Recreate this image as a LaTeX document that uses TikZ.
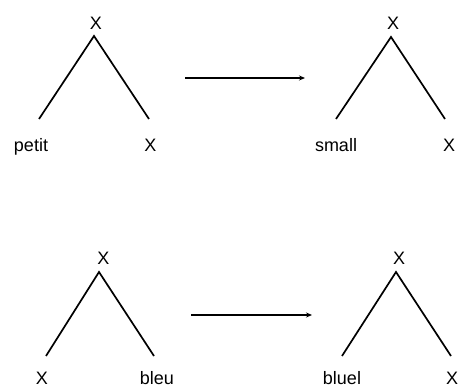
\documentclass[tikz,border=0pt]{standalone}
\usepackage{fontspec}
\setmainfont{Liberation Sans}
\usetikzlibrary{arrows.meta}

\begin{document}
\begin{tikzpicture}[x=1pt,y=-1pt,line width=1.7pt,
  lbl/.style={anchor=base,inner sep=0pt,font=\fontsize{18}{20}\selectfont},
  fleche/.style={-{Stealth[length=6pt,width=5pt]},line width=1.3pt}]
\useasboundingbox (0,0) rectangle (458,387);
% Arbre 1 : petit X
\node[lbl] (xa) at (96,29.5) {X};
\coordinate (ta) at (94,36);
\coordinate (ga) at (39,119);
\coordinate (da) at (149,119);
\node[lbl] (petit) at (31,152) {petit};
\node[lbl] (xad) at (150.5,152) {X};
\draw (ga) -- (ta) -- (da);
% Arbre 2 : small X
\node[lbl] (xb) at (393,29.5) {X};
\coordinate (tb) at (391,37);
\coordinate (gb) at (336,119);
\coordinate (db) at (445,119);
\node[lbl] (small) at (336,152) {small};
\node[lbl] (xbd) at (449,152) {X};
\draw (gb) -- (tb) -- (db);
% Arbre 3 : X bleu
\node[lbl] (xc) at (103.5,265) {X};
\coordinate (tc) at (99,272);
\coordinate (gc) at (46,356);
\coordinate (dc) at (154,356);
\node[lbl] (xcg) at (42,384.5) {X};
\node[lbl] (bleu) at (157,384.5) {bleu};
\draw (gc) -- (tc) -- (dc);
% Arbre 4 : bluel X
\node[lbl] (xd) at (399,265) {X};
\coordinate (td) at (396,272);
\coordinate (gd) at (342,356);
\coordinate (dd) at (451,356);
\node[lbl] (bluel) at (342,384.5) {bluel};
\node[lbl] (xdd) at (452,384.5) {X};
\draw (gd) -- (td) -- (dd);
% Fleches
\coordinate (fa1) at (185,78);
\coordinate (fa2) at (305,78);
\draw[fleche] (fa1) -- (fa2);
\coordinate (fb1) at (191,315);
\coordinate (fb2) at (312,315);
\draw[fleche] (fb1) -- (fb2);
\end{tikzpicture}
\end{document}
